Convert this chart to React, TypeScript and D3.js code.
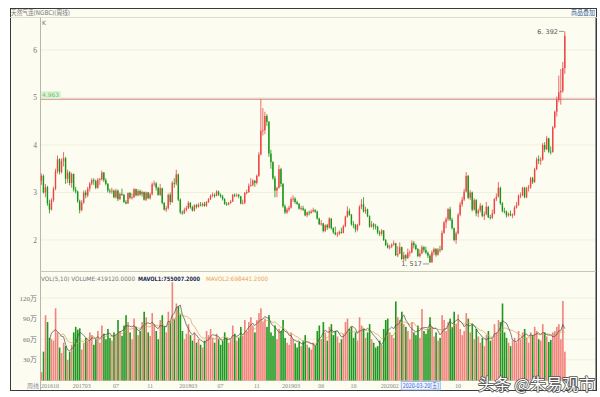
import React from 'react';
import * as d3 from 'd3';

const opens = [
3.25,3.35,3.00,3.11,2.77,2.64,2.84,3.08,3.45,3.70,
3.43,3.66,3.72,3.29,3.42,3.20,3.39,3.06,3.02,2.82,
2.63,2.79,3.00,2.94,3.08,3.19,3.26,3.24,3.10,3.27,
3.28,3.42,3.26,3.18,3.04,3.02,3.04,2.90,3.04,2.86,
2.97,2.95,2.80,2.77,2.99,2.89,2.90,3.07,2.94,3.03,
2.96,3.01,2.85,3.00,2.88,2.96,3.17,3.19,3.10,2.95,
3.09,2.78,2.64,2.67,2.95,2.80,3.20,3.19,3.38,2.85,
2.58,2.56,2.63,2.67,2.78,2.69,2.62,2.73,2.70,2.74,
2.73,2.76,2.72,2.80,2.86,2.93,2.95,2.93,3.02,2.95,
2.92,2.86,2.76,2.75,2.78,2.81,2.95,2.94,2.95,2.92,
2.77,2.78,2.99,3.01,3.14,3.16,3.25,3.20,3.35,3.80,
4.30,4.31,4.61,4.49,3.82,3.64,3.30,3.04,3.10,3.49,
3.18,2.71,2.58,2.64,2.68,2.86,2.87,2.80,2.76,2.66,
2.67,2.64,2.52,2.58,2.57,2.60,2.63,2.60,2.45,2.33,
2.35,2.19,2.31,2.26,2.45,2.25,2.16,2.12,2.13,2.17,
2.15,2.29,2.49,2.61,2.53,2.33,2.32,2.22,2.32,2.70,
2.75,2.60,2.64,2.50,2.28,2.33,2.29,2.28,2.16,2.13,
2.20,2.00,1.89,1.84,1.86,1.90,1.93,1.68,1.71,1.85,
1.60,1.68,1.62,1.73,1.74,1.94,1.89,1.81,1.66,1.72,
1.85,1.79,1.73,1.67,1.53,1.74,1.81,1.69,1.80,1.79,
2.15,2.37,2.44,2.65,2.43,2.25,2.00,2.14,2.53,2.75,
2.85,3.02,3.35,2.89,3.00,2.64,2.84,2.56,2.62,2.72,
2.51,2.54,2.70,2.48,2.47,2.56,2.86,2.91,3.10,2.77,
2.61,2.60,2.52,2.55,2.52,2.53,2.68,2.73,2.93,2.94,
3.10,2.90,3.10,3.11,3.30,3.22,3.49,3.70,3.67,3.69,
4.00,3.91,4.14,3.86,3.85,4.37,4.70,4.95,5.11,5.14,
5.62];

const highs = [
3.40,3.38,3.18,3.14,2.85,2.88,3.12,3.50,3.78,3.72,
3.72,3.85,3.75,3.48,3.45,3.42,3.40,3.12,3.04,2.85,
2.84,3.04,3.05,3.12,3.22,3.30,3.30,3.27,3.30,3.31,
3.46,3.43,3.30,3.20,3.08,3.10,3.06,3.08,3.06,3.00,
3.08,2.97,2.84,3.00,3.01,2.98,3.09,3.08,3.07,3.06,
3.04,3.02,3.02,3.01,3.00,3.21,3.25,3.22,3.12,3.18,
3.10,2.80,2.72,2.98,3.00,3.24,3.30,3.48,3.40,2.88,
2.62,2.68,2.72,2.82,2.80,2.72,2.75,2.76,2.78,2.80,
2.79,2.80,2.82,2.88,2.96,3.00,2.98,3.05,3.04,2.98,
2.95,2.88,2.80,2.80,2.84,2.97,2.98,2.98,2.97,2.93,
2.85,3.01,3.06,3.19,3.30,3.28,3.26,3.38,3.85,4.963,
4.78,4.70,4.65,4.50,3.90,3.66,3.35,3.12,3.58,3.52,
3.20,2.75,2.68,2.72,2.90,2.94,2.90,2.83,2.78,2.72,
2.72,2.66,2.60,2.62,2.64,2.68,2.65,2.62,2.47,2.42,
2.36,2.33,2.34,2.48,2.46,2.27,2.28,2.17,2.20,2.26,
2.32,2.51,2.71,2.66,2.55,2.40,2.34,2.34,2.73,2.86,
2.90,2.70,2.66,2.52,2.40,2.36,2.34,2.30,2.20,2.23,
2.21,2.02,1.94,1.90,1.93,1.99,1.94,1.87,1.95,1.86,
1.75,1.70,1.82,1.78,1.99,1.98,1.92,1.83,1.80,1.89,
1.87,1.86,1.76,1.70,1.78,1.84,1.83,1.83,1.88,2.20,
2.40,2.48,2.67,2.70,2.47,2.26,2.18,2.57,2.80,2.91,
3.08,3.43,3.37,3.05,3.02,2.88,2.86,2.66,2.78,2.74,
2.60,2.80,2.72,2.53,2.64,2.88,2.98,3.22,3.12,2.80,
2.68,2.62,2.58,2.62,2.56,2.72,2.80,2.96,3.00,3.12,
3.12,3.12,3.16,3.33,3.33,3.52,3.74,3.78,3.74,4.04,
4.06,4.19,4.15,3.97,4.40,4.72,5.02,5.46,5.60,5.75,
6.392];

const lows = [
3.16,2.98,2.90,2.72,2.56,2.62,2.80,3.05,3.40,3.38,
3.40,3.55,3.18,3.20,3.15,3.10,3.02,2.98,2.78,2.56,
2.60,2.76,2.88,2.90,3.02,3.15,3.16,3.07,3.08,3.16,
3.25,3.22,3.15,3.00,2.98,2.97,2.88,2.87,2.82,2.84,
2.93,2.78,2.75,2.76,2.86,2.85,2.88,2.92,2.92,2.93,
2.91,2.83,2.82,2.86,2.85,2.94,3.13,3.04,2.93,2.93,
2.75,2.62,2.59,2.64,2.74,2.78,3.10,3.15,2.82,2.55,
2.53,2.55,2.60,2.65,2.66,2.60,2.60,2.66,2.68,2.71,
2.70,2.70,2.70,2.78,2.84,2.90,2.89,2.92,2.93,2.89,
2.83,2.74,2.72,2.73,2.76,2.80,2.90,2.91,2.88,2.75,
2.75,2.76,2.96,2.99,3.12,3.13,3.12,3.17,3.33,3.78,
4.20,4.23,4.40,3.75,3.50,3.27,2.90,2.90,3.08,3.12,
2.68,2.55,2.55,2.60,2.66,2.80,2.76,2.74,2.64,2.62,
2.61,2.50,2.48,2.52,2.55,2.58,2.57,2.43,2.32,2.30,
2.16,2.17,2.21,2.24,2.22,2.13,2.10,2.06,2.10,2.13,
2.14,2.27,2.47,2.51,2.30,2.25,2.16,2.18,2.30,2.65,
2.58,2.55,2.48,2.26,2.26,2.22,2.22,2.12,2.08,2.09,
1.98,1.88,1.82,1.80,1.83,1.88,1.66,1.64,1.70,1.58,
1.55,1.56,1.60,1.65,1.72,1.82,1.78,1.64,1.63,1.70,
1.74,1.70,1.62,1.517,1.52,1.68,1.65,1.67,1.74,1.78,
2.13,2.25,2.40,2.40,2.22,1.97,1.92,2.12,2.50,2.70,
2.82,3.00,2.86,2.84,2.60,2.62,2.50,2.48,2.58,2.48,
2.42,2.52,2.46,2.43,2.44,2.54,2.82,2.90,2.74,2.58,
2.56,2.47,2.49,2.50,2.46,2.51,2.66,2.72,2.88,2.92,
2.88,2.88,3.02,3.08,3.18,3.20,3.47,3.60,3.58,3.67,
3.85,3.89,3.83,3.80,3.84,4.35,4.60,4.90,4.85,5.10,
5.50];

const closes = [
3.35,3.00,3.11,2.77,2.64,2.84,3.08,3.45,3.70,3.43,
3.66,3.72,3.29,3.42,3.20,3.39,3.06,3.02,2.82,2.63,
2.79,3.00,2.94,3.08,3.19,3.26,3.24,3.10,3.27,3.28,
3.42,3.26,3.18,3.04,3.02,3.04,2.90,3.04,2.86,2.97,
2.95,2.80,2.77,2.99,2.89,2.90,3.07,2.94,3.03,2.96,
3.01,2.85,3.00,2.88,2.96,3.17,3.19,3.10,2.95,3.09,
2.78,2.64,2.67,2.95,2.80,3.20,3.19,3.38,2.85,2.58,
2.56,2.63,2.67,2.78,2.69,2.62,2.73,2.70,2.74,2.73,
2.76,2.72,2.80,2.86,2.93,2.95,2.93,3.02,2.95,2.92,
2.86,2.76,2.75,2.78,2.81,2.95,2.94,2.95,2.92,2.77,
2.78,2.99,3.01,3.14,3.16,3.25,3.20,3.35,3.80,4.30,
4.31,4.61,4.49,3.82,3.64,3.30,3.04,3.10,3.49,3.18,
2.71,2.58,2.64,2.68,2.86,2.87,2.80,2.76,2.66,2.67,
2.64,2.52,2.58,2.57,2.60,2.63,2.60,2.45,2.33,2.35,
2.19,2.31,2.26,2.45,2.25,2.16,2.12,2.13,2.17,2.15,
2.29,2.49,2.61,2.53,2.33,2.32,2.22,2.32,2.70,2.75,
2.60,2.64,2.50,2.28,2.33,2.29,2.28,2.16,2.13,2.20,
2.00,1.89,1.84,1.86,1.90,1.93,1.68,1.71,1.85,1.60,
1.68,1.62,1.73,1.74,1.94,1.89,1.81,1.66,1.72,1.85,
1.79,1.73,1.67,1.53,1.74,1.81,1.69,1.80,1.79,2.15,
2.37,2.44,2.65,2.43,2.25,2.00,2.14,2.53,2.75,2.85,
3.02,3.35,2.89,3.00,2.64,2.84,2.56,2.62,2.72,2.51,
2.54,2.70,2.48,2.47,2.56,2.86,2.91,3.10,2.77,2.61,
2.60,2.52,2.55,2.52,2.53,2.68,2.73,2.93,2.94,3.10,
2.90,3.10,3.11,3.30,3.22,3.49,3.70,3.67,3.69,4.00,
3.91,4.14,3.86,3.85,4.37,4.70,4.95,5.11,5.14,5.62,
6.30];

// weekly volume, in 万 (10,000 contracts)
const volumes = [
12,42,95,85,62,60,58,105,70,48,
40,55,50,30,42,52,70,78,74,76,
45,55,62,58,70,66,52,60,72,55,
80,68,60,75,62,58,70,66,88,72,
65,80,95,85,70,60,90,78,66,72,
85,100,92,70,65,98,82,72,60,88,
95,78,70,100,85,143,90,112,108,96,
72,60,68,82,66,58,70,55,60,52,
48,58,72,66,75,62,55,68,60,52,
58,70,62,55,60,80,68,58,62,78,
65,88,72,85,92,80,70,88,98,105,
85,90,78,95,70,65,80,60,75,72,
88,62,55,52,70,60,54,48,56,50,
58,66,52,48,45,55,50,72,80,60,
85,70,58,78,82,66,72,64,55,60,
68,85,90,75,78,62,70,58,92,80,
75,62,70,82,60,55,48,50,58,52,
75,88,90,70,66,62,115,92,88,100,
82,78,72,60,85,70,66,80,62,104,
72,68,75,92,78,64,70,58,62,95,
88,72,85,90,78,100,82,96,75,66,
72,98,90,70,82,60,75,64,55,62,
50,66,72,58,60,82,70,88,85,112,
70,62,55,50,58,62,55,72,60,70,
75,62,55,70,66,78,72,60,58,82,
70,64,56,59,70,71.9376,78,82,60,115.5916,
41.912];

const priceTicks = [2, 3, 4, 5, 6];
const volTicks = [30, 60, 90, 120];
const volTickLabels = ['30万', '60万', '90万', '120万'];
const xTickIndex = [0, 20, 37, 54, 73, 89, 107, 124, 139, 155, 173, 207];
const xTickLabels = ['201610', '201703', '07', '11', '201803', '07', '11', '201903', '06', '10', '202002', '10'];
const cursorIndex = 179;
const cursorLabel = '2020-03-20[五]';
const refLevel = 4.963;
const highIndex = 260;
const lowIndex = 193;

const FONT = "'DejaVu Sans', 'Noto Sans CJK SC', sans-serif";
const SERIF = "'Liberation Serif', 'Noto Sans CJK SC', serif";
const RED = '#ee4444';
const GREEN = '#169616';
const RED_V = '#f2837c';
const GREEN_V = '#1e981e';

export default function App() {
  const N = closes.length;
  const plotL = 40;
  const x = d3.scaleBand<number>()
    .domain(d3.range(N + 14))
    .range([plotL, plotL + 2.016 * (N + 14)])
    .paddingInner(0.3)
    .paddingOuter(0.35);
  const bw = x.bandwidth();
  const cx = (i: number) => (x(i) as number) + bw / 2;
  const y = d3.scaleLinear().domain([2, 6]).range([240, 50]);
  const yv = d3.scaleLinear().domain([0, 120]).range([380.5, 298]);

  const ma = (n: number) => volumes.map((_, i) => (i < n - 1 ? null : (d3.mean(volumes.slice(i - n + 1, i + 1)) as number)));
  const ma5 = ma(5);
  const ma10 = ma(10);
  const line = d3.line<number | null>()
    .defined((d) => d !== null)
    .x((_, i) => cx(i))
    .y((d) => yv(d as number));

  const isUp = (i: number) => closes[i] >= opens[i];

  return (
    <svg width={600} height={397} style={{ position: 'absolute', left: 0, top: 0, display: 'block' }}>
      <rect x={0} y={0} width={600} height={397} fill="#ffffff" />
      <rect x={10.5} y={8.5} width={586} height={382} fill="#fcfcf0" stroke="#3a3a3a" strokeWidth={1} />
      {/* header */}
      <line x1={10} x2={597} y1={17.5} y2={17.5} stroke="#d8d8c8" strokeWidth={0.8} />
      <text x={11} y={15} fontSize={6.5} fill="#777" fontFamily={FONT} textLength={59} lengthAdjust="spacingAndGlyphs">天然气连(NGBC)(周线)</text>
      <text x={571} y={15} fontSize={6.5} fill="#2f5a9a" fontFamily={FONT} textLength={24} lengthAdjust="spacingAndGlyphs">商品叠加</text>
      {/* axis frame lines */}
      <line x1={40.5} x2={40.5} y1={17.5} y2={390} stroke="#b8b8a8" strokeWidth={1} />
      <line x1={595.5} x2={595.5} y1={17.5} y2={390} stroke="#9a9a9a" strokeWidth={1} />
      <line x1={40} x2={596} y1={271.5} y2={271.5} stroke="#c8c8b8" strokeWidth={1} />
      <line x1={40} x2={596} y1={380.5} y2={380.5} stroke="#c8c8b8" strokeWidth={0.8} />
      <text x={42} y={25} fontSize={6} fill="#777" fontFamily={FONT}>K</text>

      {/* price grid & ticks */}
      {priceTicks.map((t) => (
        <g key={'p' + t}>
          <line x1={41} x2={595} y1={y(t)} y2={y(t)} stroke="#ecebd6" strokeWidth={0.7} />
          <text x={37} y={y(t) + 2.5} fontSize={7.5} fill="#777" textAnchor="end" fontFamily={SERIF}>{t}</text>
        </g>
      ))}
      {/* volume grid & ticks */}
      {volTicks.map((t, k) => (
        <g key={'v' + t}>
          <line x1={41} x2={595} y1={yv(t)} y2={yv(t)} stroke="#ecebd6" strokeWidth={0.7} />
          <text x={37} y={yv(t) + 2.5} fontSize={7} fill="#777" textAnchor="end" fontFamily={SERIF}>{volTickLabels[k]}</text>
        </g>
      ))}

      {/* reference level line */}
      <line x1={41} x2={595} y1={y(refLevel)} y2={y(refLevel)} stroke="#d9a5a5" strokeWidth={1.5} />
      <rect x={41} y={y(refLevel) - 8} width={20} height={7.5} fill="#d9f4d2" />
      <text x={42} y={y(refLevel) - 2.2} fontSize={6} fill="#78c078" fontFamily={FONT}>{refLevel.toFixed(3)}</text>

      {/* candles */}
      {closes.map((c, i) => {
        const col = isUp(i) ? RED : GREEN;
        const top = y(Math.max(opens[i], c));
        const bot = y(Math.min(opens[i], c));
        return (
          <g key={'c' + i}>
            <line x1={cx(i)} x2={cx(i)} y1={y(highs[i])} y2={y(lows[i])} stroke={col} strokeWidth={0.8} />
            <rect x={x(i)} y={top} width={bw} height={Math.max(0.8, bot - top)} fill={col} />
          </g>
        );
      })}

      {/* high / low annotations */}
      <text x={558} y={y(highs[highIndex]) + 2.3} fontSize={6.5} fill="#555" textAnchor="end" fontFamily={FONT}>{highs[highIndex].toFixed(3).replace('.', '. ')}</text>
      <line x1={559} x2={cx(highIndex) - 0.8} y1={y(highs[highIndex])} y2={y(highs[highIndex])} stroke="#555" strokeWidth={0.6} />
      <text x={422} y={y(lows[lowIndex]) + 3} fontSize={6.5} fill="#555" textAnchor="end" fontFamily={FONT}>{lows[lowIndex].toFixed(3).replace('.', '. ')}</text>
      <line x1={423} x2={cx(lowIndex) - 0.8} y1={y(lows[lowIndex]) + 1} y2={y(lows[lowIndex]) + 1} stroke="#555" strokeWidth={0.6} />

      {/* volume bars */}
      {volumes.map((v, i) => (
        <rect key={'v' + i} x={x(i)} y={yv(v)} width={bw + 0.2} height={yv(0) - yv(v)} fill={isUp(i) ? RED_V : GREEN_V} />
      ))}
      <path d={line(ma10) || ''} fill="none" stroke="#d6a050" strokeWidth={0.7} />
      <path d={line(ma5) || ''} fill="none" stroke="#4a4a4a" strokeWidth={0.7} />

      {/* volume header */}
      <text x={41} y={281} fontSize={6} fill="#777" fontFamily={FONT} textLength={94} lengthAdjust="spacingAndGlyphs">VOL(5,10) VOLUME:419120.0000</text>
      <text x={138} y={281} fontSize={6} fill="#1e2a55" fontWeight="bold" fontFamily={FONT} textLength={62} lengthAdjust="spacingAndGlyphs">MAVOL1:755007.2000</text>
      <text x={206} y={281} fontSize={6} fill="#f0a050" fontFamily={FONT} textLength={62} lengthAdjust="spacingAndGlyphs">MAVOL2:698441.2000</text>

      {/* x axis labels */}
      <text x={27} y={388} fontSize={6} fill="#8a8aa0" fontFamily={FONT}>周线</text>
      {xTickIndex.map((idx, k) => (
        <text key={'x' + k} x={k === 0 ? 41 : cx(idx)} y={388} fontSize={6} fill="#888" textAnchor={k === 0 ? 'start' : 'middle'} fontFamily={SERIF}>{xTickLabels[k]}</text>
      ))}
      <rect x={cx(cursorIndex) - 0.5} y={381.5} width={39} height={8.5} fill="#eef3ff" stroke="#8fb0e8" strokeWidth={0.8} />
      <text x={cx(cursorIndex) + 1} y={388.3} fontSize={6.5} fill="#3a6ad0" fontFamily={FONT} textLength={36} lengthAdjust="spacingAndGlyphs">{cursorLabel}</text>

      {/* watermark */}
      <text x={478} y={390} fontSize={15.5} fill="#ffffff" stroke="#555" strokeWidth={1.6} paintOrder="stroke" strokeLinejoin="round" fontFamily="'Noto Sans CJK SC', sans-serif" textLength={117} lengthAdjust="spacingAndGlyphs">头条 @朱易观市</text>
    </svg>
  );
}
